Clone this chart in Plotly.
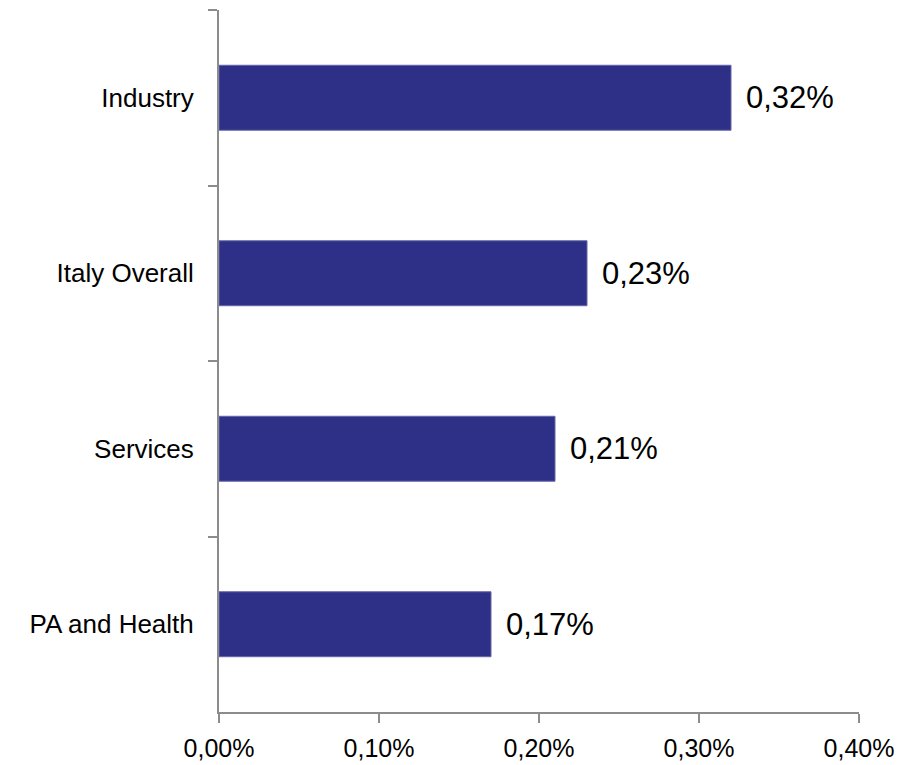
import plotly.graph_objects as go

categories = ["Industry", "Italy Overall", "Services", "PA and Health"]
values = [0.0032, 0.0023, 0.0021, 0.0017]
labels = ["0,32%", "0,23%", "0,21%", "0,17%"]
x_ticks = [0.0, 0.001, 0.002, 0.003, 0.004]

bar_color = "#2E3087"
axis_color = "#8C8C8C"
font_family = "Liberation Sans, Arial, sans-serif"

fig = go.Figure(
    go.Bar(
        x=values,
        y=categories,
        orientation="h",
        width=0.37,
        marker=dict(color=bar_color, line=dict(color="#6466AA", width=1)),
        cliponaxis=False,
    )
)

# value labels placed just to the right of each bar end
for cat, val, lab in zip(categories, values, labels):
    fig.add_annotation(
        x=val,
        y=cat,
        text=lab,
        showarrow=False,
        xanchor="left",
        yanchor="middle",
        xshift=13,
        font=dict(family=font_family, size=31, color="#000000"),
    )

fig.update_layout(
    width=904,
    height=765,
    margin=dict(l=219, r=45, t=10, b=53, autoexpand=False),
    plot_bgcolor="white",
    paper_bgcolor="white",
    separators=",.",
    showlegend=False,
    font=dict(family=font_family, color="#000000"),
)

fig.update_xaxes(
    range=[0, 0.004],
    tickvals=x_ticks,
    tickformat=".2%",
    showgrid=False,
    zeroline=False,
    showline=True,
    linecolor=axis_color,
    linewidth=2,
    ticks="outside",
    ticklen=9,
    tickwidth=2,
    tickcolor=axis_color,
    tickfont=dict(size=25, family=font_family, color="#000000"),
    ticklabelstandoff=4,
    automargin=False,
)

fig.update_yaxes(
    autorange="reversed",
    type="category",
    showgrid=False,
    zeroline=False,
    showline=True,
    linecolor=axis_color,
    linewidth=2,
    ticks="outside",
    tickson="boundaries",
    ticklen=9,
    tickwidth=2,
    tickcolor=axis_color,
    tickfont=dict(size=26, family=font_family, color="#000000"),
    ticklabelstandoff=18,
    automargin=False,
)

fig.write_html("out.html")
